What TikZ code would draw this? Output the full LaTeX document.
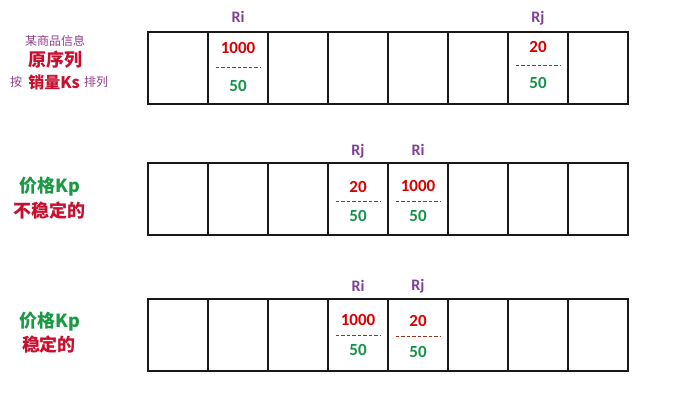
\documentclass[tikz,border=0pt]{standalone}
\usepackage{fontspec}
\setmainfont{Carlito}[BoldFont={Carlito Bold}]
\newfontfamily\cjk{Noto Sans CJK SC}
\usepackage{xcolor}
\usepackage{tikz}
\usetikzlibrary{positioning, calc}
\definecolor{keypurple}{HTML}{7F3F98}
\definecolor{numred}{HTML}{D50000}
\definecolor{numgreen}{HTML}{12924A}
\definecolor{seprule}{HTML}{98321E}
\definecolor{cnred}{HTML}{C8102E}
\definecolor{cngreen}{HTML}{1A9A45}
\definecolor{cnpurple}{HTML}{8E3C8E}

\tikzset{
  cell/.style={draw=black!90, line width=1.6pt, minimum width=60pt, minimum height=72pt, inner sep=0pt},
  keylab/.style={text=keypurple, font=\bfseries\fontsize{16}{16}\selectfont, inner sep=1pt, text height=11pt, text depth=3pt},
  topnum/.style={text=numred, font=\bfseries\fontsize{17}{17}\selectfont, inner sep=0pt},
  botnum/.style={text=numgreen, font=\bfseries\fontsize{17}{17}\selectfont, inner sep=0pt},
  sepline/.style={draw=seprule, line width=1pt, dash pattern=on 3.5pt off 2pt},
  cnbig/.style={font=\cjk\bfseries\fontsize{18}{18}\selectfont, inner sep=0pt},
  cnsmall/.style={font=\cjk\fontsize{12}{12}\selectfont, text=cnpurple, inner sep=0pt}
}

% one record: cell, upper key, shift up, shift down
\newcommand{\keypair}[4]{%
  \node[topnum, yshift=#3] (#1t) at (#1) {#2};
  \node[botnum, yshift=-#4] (#1b) at (#1) {50};
  \draw[sepline] ($(#1t)!.5!(#1b)+(-22.5,0)$) -- ($(#1t)!.5!(#1b)+(22.5,0)$);
}

\begin{document}
\begin{tikzpicture}[x=1pt, y=-1pt]
  \useasboundingbox (0,0) rectangle (673,402);

  % three rows of eight cells
  \foreach \i in {1,...,8} {
    \node[cell] (a\i) at ({118+60*\i}, 68) {};
    \node[cell] (b\i) at ({118+60*\i}, 199) {};
    \node[cell] (c\i) at ({118+60*\i}, 335) {};
  }

  % original order
  \keypair{a2}{1000}{20pt}{18pt}
  \keypair{a7}{20}{21pt}{15pt}
  \node[keylab, above=5pt of a2] (ria) {Ri};
  \node[keylab, above=5pt of a7] (rja) {Rj};

  % unstable result
  \keypair{b4}{20}{12pt}{17pt}
  \keypair{b5}{1000}{13pt}{17pt}
  \node[keylab, above=3pt of b4] (rjb) {Rj};
  \node[keylab, above=3pt of b5] (rib) {Ri};

  % stable result
  \keypair{c4}{1000}{15pt}{15pt}
  \keypair{c5}{20}{14pt}{17pt}
  \node[keylab, above=2.5pt of c4] (ric) {Ri};
  \node[keylab, above=3.5pt of c5] (rjc) {Rj};

  % left captions
  \node[cnsmall] (info) at (55,41) {某商品信息};
  \node[cnbig, text=cnred] (orig) at (55,60) {原序列};
  \node[cnsmall] (by) at (16,82) {按};
  \node[cnbig, text=cnred, font=\cjk\bfseries\fontsize{16}{16}\selectfont] (sales) at (54,82) {销量Ks};
  \node[cnsmall] (sort) at (96,82) {排列};

  \node[cnbig, text=cngreen] (pricea) at (50,187) {价格Kp};
  \node[cnbig, text=cnred] (unstable) at (49,211) {不稳定的};

  \node[cnbig, text=cngreen] (priceb) at (50,322) {价格Kp};
  \node[cnbig, text=cnred] (stable) at (49,345) {稳定的};
\end{tikzpicture}
\end{document}
